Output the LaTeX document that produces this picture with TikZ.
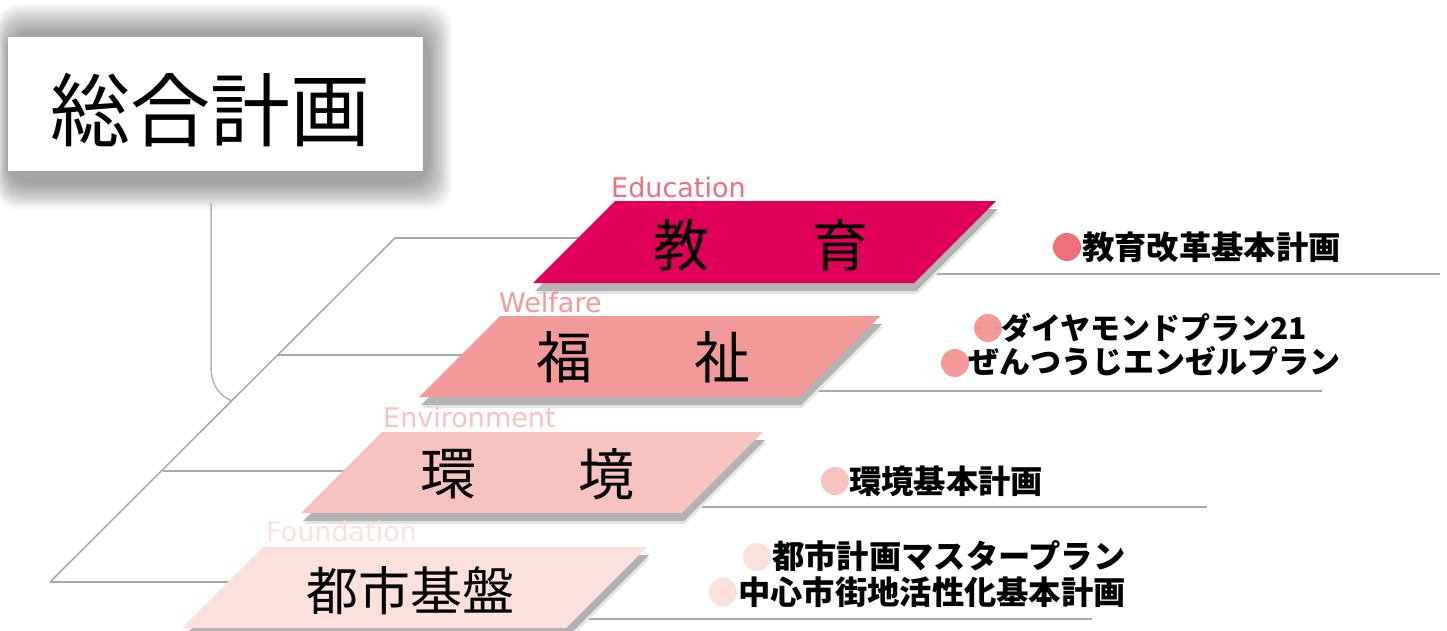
\documentclass[tikz,border=0pt]{standalone}
\usepackage{fontspec}
\newfontfamily\jp{Noto Sans CJK JP}
\newfontfamily\lab{DejaVu Sans}
\definecolor{edu}{HTML}{E0005A}
\definecolor{edul}{HTML}{EF6F7C}
\definecolor{wel}{HTML}{F29A9A}
\definecolor{env}{HTML}{F7C3BE}
\definecolor{fou}{HTML}{FCE0DC}
\definecolor{ln}{HTML}{A8A8A8}
\tikzset{
  guide/.style={draw=ln, line width=1.5pt},
  tierlabel/.style={anchor=base west, inner sep=0pt, font=\lab\fontsize{27}{30}\selectfont},
  bigchar/.style={inner sep=0pt, font=\jp\fontsize{56}{60}\selectfont},
  item/.style={anchor=west, inner sep=0pt, font=\jp\bfseries\fontsize{32.3}{34}\selectfont},
}
\newcommand{\pshadow}[4]{% top-left x, top y, width, height
  \fill[black!10] ({#1+3},{#2+11}) -- ({#1+#3+3},{#2+11}) -- ({#1+#3+3-#4},{#2+#4+11}) -- ({#1+3-#4},{#2+#4+11}) -- cycle;
  \fill[black!30] ({#1+2},{#2+8}) -- ({#1+#3+2},{#2+8}) -- ({#1+#3+2-#4},{#2+#4+8}) -- ({#1+2-#4},{#2+#4+8}) -- cycle;
}
\newcommand{\ppg}[5]{% top-left x, top y, width, height, colour
  \fill[#5] ({#1},{#2}) -- ({#1+#3},{#2}) -- ({#1+#3-#4},{#2+#4}) -- ({#1-#4},{#2+#4}) -- cycle;
}
\begin{document}
\begin{tikzpicture}[x=1pt,y=-1pt]
\useasboundingbox[fill=white] (0,0) rectangle (1447,631);

% title shadow
\foreach \i in {0,...,19}{
  \fill[black,opacity=0.019,rounded corners=22] ({-4+\i*0.6},{4+\i*1.5}) rectangle ({452-\i*1.2},{210-\i*1.4});
}
\fill[white] (8,37) rectangle (423,171);
\node[inner sep=0pt, font=\jp\fontsize{80}{90}\selectfont] (title) at (210,110) {総合計画};

% structure lines
\coordinate (tb) at (211,203);
\coordinate (top) at (395,238);
\coordinate (bot) at (50,582);
\coordinate (join) at (232,401);
\draw[guide, draw=ln!85] (tb) -- (211,366) .. controls (211,386) and (220,396) .. (join);
\draw[guide] (top) -- (bot);
\draw[guide] (top) -- (700,238);
\draw[guide] (278,355) -- (600,355);
\draw[guide] (163,471) -- (450,471);
\draw[guide] (bot) -- (300,582);
\draw[guide] (860,274) -- (1440,274);
\draw[guide] (745,391) -- (1322,391);
\draw[guide] (630,507) -- (1207,507);
\draw[guide] (520,619) -- (1092,619);

% parallelograms
\pshadow{615}{201}{381}{82}
\ppg{615}{201}{381}{82}{edu}
\pshadow{500}{316}{380}{81}
\ppg{500}{316}{380}{81}{wel}
\pshadow{382}{432}{381}{81}
\ppg{382}{432}{381}{81}{env}
\pshadow{263}{547}{384}{81}
\ppg{263}{547}{384}{81}{fou}

% tier labels
\node[tierlabel, text=edul] (leduc) at (611,197) {Education};
\node[tierlabel, text=wel] (lwelf) at (499,312) {Welfare};
\node[tierlabel, text=env] (lenv) at (383,427) {Environment};
\node[tierlabel, text=fou] (lfou) at (266,541) {Foundation};

% tier names
\node[bigchar] (e1) at (681,245) {教};
\node[bigchar] (e2) at (840,245) {育};
\node[bigchar] (w1) at (564,357) {福};
\node[bigchar] (w2) at (722,357) {祉};
\node[bigchar] (v1) at (448,474) {環};
\node[bigchar] (v2) at (606,474) {境};
\node[inner sep=0pt, font=\jp\fontsize{52}{56}\selectfont] (f1) at (410,591) {都市基盤};

% right items
\fill[edul] (1067,247) circle[radius=14];
\node[item] (i1) at (1082,247) {教育改革基本計画};
\fill[wel] (988,328) circle[radius=14];
\node[item, font=\jp\bfseries\fontsize{30}{34}\selectfont] (i2) at (1001,328) {ダイヤモンドプラン21};
\fill[wel] (955,363) circle[radius=14];
\node[item, font=\jp\bfseries\fontsize{31}{34}\selectfont] (i3) at (968,361) {ぜんつうじエンゼルプラン};
\fill[env] (835,481) circle[radius=14];
\node[item] (i4) at (849,481) {環境基本計画};
\fill[fou] (757,557) circle[radius=14];
\node[item] (i5) at (772,556) {都市計画マスタープラン};
\fill[fou] (723,592) circle[radius=14];
\node[item] (i6) at (738,592) {中心市街地活性化基本計画};
\end{tikzpicture}
\end{document}
